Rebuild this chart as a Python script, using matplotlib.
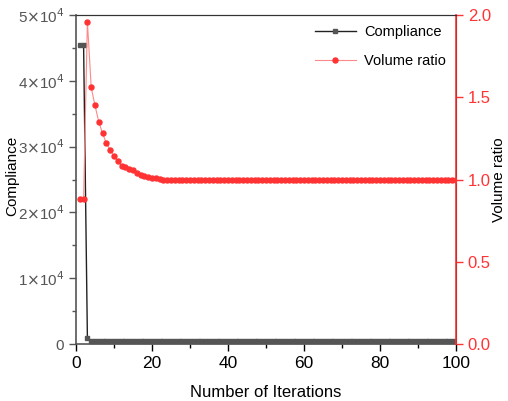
import matplotlib.pyplot as plt
from matplotlib.ticker import MultipleLocator, FuncFormatter

plt.rcParams['font.family'] = ['Liberation Sans', 'DejaVu Sans']

# datos
iteraciones = list(range(1, 101))
compliance = [45400, 45400, 900] + [500] * 97
volume_ratio = [0.88, 0.88, 1.96, 1.56, 1.45, 1.35, 1.28, 1.22, 1.18, 1.14,
                1.11, 1.085, 1.075, 1.065, 1.055, 1.04, 1.03, 1.024, 1.018, 1.012,
                1.012, 1.006] + [1.0] * 78

rojo = '#ff3333'
gris = '#555555'

fig = plt.figure(figsize=(5.08, 4.01), dpi=100)
ax = fig.add_axes([0.1496, 0.142, 0.748, 0.8206])
ax2 = ax.twinx()

l1, = ax.plot(iteraciones, compliance, color='#222222', lw=1.0, marker='s',
              ms=2.2, mfc='#555555', mec='#555555', label='Compliance')
l2, = ax2.plot(iteraciones, volume_ratio, color='#ff8888', lw=0.8, marker='o',
               ms=3.6, mfc=rojo, mec=rojo, label='Volume ratio')

ax.set_xlim(0, 100)
ax.set_ylim(0, 50000)
ax2.set_ylim(0, 2.0)

ax.xaxis.set_major_locator(MultipleLocator(20))
ax.xaxis.set_minor_locator(MultipleLocator(10))
ax.yaxis.set_major_locator(MultipleLocator(10000))
ax.yaxis.set_minor_locator(MultipleLocator(5000))
ax2.yaxis.set_major_locator(MultipleLocator(0.5))


def fmt_sci(v, pos):
    if v == 0:
        return '0'
    return r'%d$\times$10$^{4}$' % round(v / 10000)


ax.yaxis.set_major_formatter(FuncFormatter(fmt_sci))
ax2.yaxis.set_major_formatter(FuncFormatter(lambda v, p: '%.1f' % v))

ax.tick_params(axis='x', which='major', length=5, width=1, labelsize=12.5, colors='black')
ax.tick_params(axis='x', which='minor', length=3, width=1)
ax.tick_params(axis='y', which='major', length=5, width=1, labelsize=11,
               colors=gris, labelcolor=gris)
ax.tick_params(axis='y', which='minor', length=3, width=1, colors=gris)
ax2.tick_params(axis='y', length=5, width=1, labelsize=12, colors=rojo, labelcolor=rojo)

for s in ['left', 'bottom']:
    ax.spines[s].set_color(gris)
    ax.spines[s].set_linewidth(1.2)
ax.spines['top'].set_color('#333333')
ax2.spines['right'].set_color(rojo)
ax2.spines['right'].set_linewidth(1.2)
ax2.spines['left'].set_visible(False)
ax2.spines['bottom'].set_visible(False)
ax2.spines['top'].set_color('#333333')

ax.set_xlabel('Number of Iterations', fontsize=12, labelpad=10)
ax.set_ylabel('Compliance', fontsize=11, va='center')
ax.yaxis.set_label_coords(-0.168, 0.51)
ax2.set_ylabel('Volume ratio', fontsize=11, va='center')
ax2.yaxis.set_label_coords(1.112, 0.5)

ax2.legend([l1, l2], ['Compliance', 'Volume ratio'], loc='upper right',
           frameon=False, fontsize=10.5, handlelength=2.8, handletextpad=0.55,
           borderaxespad=0.3, labelspacing=1.0)

fig.savefig('out.png', dpi=100)
